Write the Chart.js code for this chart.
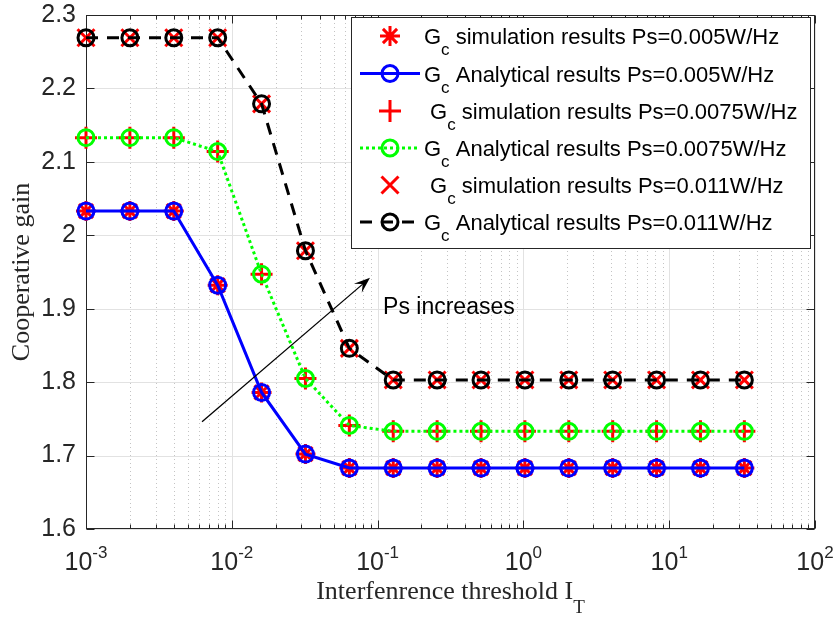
<!DOCTYPE html>
<html>
<head>
<meta charset="utf-8">
<script src="https://cdn.jsdelivr.net/npm/chart.js@4.4.1/dist/chart.umd.min.js"></script>
<style>
    html, body { margin: 0; padding: 0; background: #fff; }
    #wrap { width: 838px; height: 618px; }
</style>
</head>
<body>
<div id="wrap"><canvas id="chart" width="838" height="618"></canvas></div>
<script>
// Interference threshold I_T (x, log scale)
const thresholds = [0.001, 0.002, 0.004, 0.008, 0.016, 0.032, 0.064, 0.128, 0.256, 0.512, 1.024, 2.048, 4.096, 8.192, 16.384, 32.768];

// Cooperative gain
const gainPs005 = [2.033, 2.033, 2.033, 1.932, 1.786, 1.702, 1.683, 1.683, 1.683, 1.683, 1.683, 1.683, 1.683, 1.683, 1.683, 1.683];
const gainPs0075 = [2.133, 2.133, 2.133, 2.114, 1.947, 1.805, 1.741, 1.733, 1.733, 1.733, 1.733, 1.733, 1.733, 1.733, 1.733, 1.733];
const gainPs011 = [2.269, 2.269, 2.269, 2.269, 2.179, 1.979, 1.846, 1.803, 1.803, 1.803, 1.803, 1.803, 1.803, 1.803, 1.803, 1.803];

const xTickValues = [0.001, 0.01, 0.1, 1, 10, 100];
const xTickExponents = ['-3', '-2', '-1', '0', '1', '2'];
const yTickValues = [1.6, 1.7, 1.8, 1.9, 2.0, 2.1, 2.2, 2.3];

const legendLabels = [
    'G_c simulation results Ps=0.005W/Hz',
    'G_c Analytical results Ps=0.005W/Hz',
    ' G_c simulation results Ps=0.0075W/Hz',
    'G_c Analytical results Ps=0.0075W/Hz',
    ' G_c simulation results Ps=0.011W/Hz',
    'G_c Analytical results Ps=0.011W/Hz'
];

const xTitle = 'Interfenrence threshold I';
const xTitleSub = 'T';
const yTitle = 'Cooperative gain';
const arrowFrom = { x: 0.00625, y: 1.746 };
const arrowTo = { x: 0.0887, y: 1.942 };
const noteText = 'Ps increases';
const notePos = { x: 0.109, y: 1.893 };

const SANS = '"Liberation Sans", Arial, Helvetica, sans-serif';
const SERIF = '"Liberation Serif", "Times New Roman", serif';
const AXIS_COLOR = '#262626';

function toPoints(values) {
    return thresholds.map((x, i) => ({ x: x, y: values[i] }));
}

function simSet(label, values, style, radius, order) {
    return {
        label: label,
        data: toPoints(values),
        showLine: false,
        pointStyle: style,
        pointRadius: radius,
        pointBorderWidth: 3,
        pointBorderColor: '#ff0000',
        pointBackgroundColor: '#ff0000',
        borderColor: '#ff0000',
        clip: false,
        order: order
    };
}

function lineSet(label, values, color, dash, order) {
    return {
        label: label,
        data: toPoints(values),
        showLine: true,
        borderColor: color,
        borderWidth: 3,
        borderDash: dash,
        tension: 0,
        pointStyle: 'circle',
        pointRadius: 8,
        pointBorderWidth: 3,
        pointBorderColor: color,
        pointBackgroundColor: 'rgba(0,0,0,0)',
        clip: false,
        order: order
    };
}

// Grid, box and inward ticks (MATLAB-like), under the data
function drawFrame(chart) {
    const { ctx, chartArea: a, scales: { x, y } } = chart;
    ctx.save();

    // minor x grid, dotted
    ctx.strokeStyle = '#c4c4c4';
    ctx.lineWidth = 1;
    ctx.setLineDash([1, 3]);
    for (let d = 0; d < xTickValues.length - 1; d++) {
        for (let k = 2; k <= 9; k++) {
            const px = Math.round(x.getPixelForValue(xTickValues[d] * k)) + 0.5;
            ctx.beginPath();
            ctx.moveTo(px, a.top);
            ctx.lineTo(px, a.bottom);
            ctx.stroke();
        }
    }

    // major grid
    ctx.setLineDash([]);
    ctx.strokeStyle = '#e2e2e2';
    xTickValues.forEach(v => {
        const px = Math.round(x.getPixelForValue(v)) + 0.5;
        ctx.beginPath();
        ctx.moveTo(px, a.top);
        ctx.lineTo(px, a.bottom);
        ctx.stroke();
    });
    yTickValues.forEach(v => {
        const py = Math.round(y.getPixelForValue(v)) + 0.5;
        ctx.beginPath();
        ctx.moveTo(a.left, py);
        ctx.lineTo(a.right, py);
        ctx.stroke();
    });

    // box
    ctx.strokeStyle = AXIS_COLOR;
    ctx.lineWidth = 1;
    const L = Math.round(a.left) + 0.5, R = Math.round(a.right) - 0.5;
    const T = Math.round(a.top) + 0.5, B = Math.round(a.bottom) - 0.5;
    ctx.strokeRect(L, T, R - L, B - T);

    // ticks
    ctx.beginPath();
    xTickValues.forEach(v => {
        const px = Math.round(x.getPixelForValue(v)) + 0.5;
        ctx.moveTo(px, B); ctx.lineTo(px, B - 8);
        ctx.moveTo(px, T); ctx.lineTo(px, T + 8);
    });
    for (let d = 0; d < xTickValues.length - 1; d++) {
        for (let k = 2; k <= 9; k++) {
            const px = Math.round(x.getPixelForValue(xTickValues[d] * k)) + 0.5;
            ctx.moveTo(px, B); ctx.lineTo(px, B - 4);
            ctx.moveTo(px, T); ctx.lineTo(px, T + 4);
        }
    }
    yTickValues.forEach(v => {
        const py = Math.round(y.getPixelForValue(v)) + 0.5;
        ctx.moveTo(L, py); ctx.lineTo(L + 8, py);
        ctx.moveTo(R, py); ctx.lineTo(R - 8, py);
    });
    ctx.stroke();
    ctx.restore();
}

function drawLabels(chart) {
    const { ctx, chartArea: a, scales: { x, y } } = chart;
    ctx.save();
    ctx.fillStyle = AXIS_COLOR;
    ctx.textBaseline = 'alphabetic';
    ctx.textAlign = 'left';

    // x tick labels: 10^n
    xTickValues.forEach((v, i) => {
        const px = x.getPixelForValue(v);
        ctx.font = '25px ' + SANS;
        const wBase = ctx.measureText('10').width;
        ctx.font = '17px ' + SANS;
        const wExp = ctx.measureText(xTickExponents[i]).width;
        const start = px - (wBase + wExp) / 2;
        ctx.font = '25px ' + SANS;
        ctx.fillText('10', start, 570);
        ctx.font = '17px ' + SANS;
        ctx.fillText(xTickExponents[i], start + wBase, 558);
    });

    // x title with subscript
    ctx.font = '26px ' + SERIF;
    const wMain = ctx.measureText(xTitle).width;
    ctx.font = '19px ' + SERIF;
    const wSub = ctx.measureText(xTitleSub).width;
    const cx = (a.left + a.right) / 2;
    const sx = cx - (wMain + wSub) / 2;
    ctx.font = '26px ' + SERIF;
    ctx.fillText(xTitle, sx, 599);
    ctx.font = '19px ' + SERIF;
    ctx.fillText(xTitleSub, sx + wMain, 613);

    // y title
    ctx.save();
    ctx.translate(22, (a.top + a.bottom) / 2);
    ctx.rotate(-Math.PI / 2);
    ctx.textAlign = 'center';
    ctx.textBaseline = 'middle';
    ctx.font = '26px ' + SERIF;
    ctx.fillText(yTitle, 0, 0);
    ctx.restore();

    // arrow annotation
    const x0 = x.getPixelForValue(arrowFrom.x), y0 = y.getPixelForValue(arrowFrom.y);
    const x1 = x.getPixelForValue(arrowTo.x), y1 = y.getPixelForValue(arrowTo.y);
    const ang = Math.atan2(y1 - y0, x1 - x0);
    const headLen = 16, headHalf = 6;
    ctx.strokeStyle = '#000';
    ctx.fillStyle = '#000';
    ctx.lineWidth = 1.3;
    ctx.beginPath();
    ctx.moveTo(x0, y0);
    ctx.lineTo(x1 - Math.cos(ang) * headLen * 0.6, y1 - Math.sin(ang) * headLen * 0.6);
    ctx.stroke();
    ctx.save();
    ctx.translate(x1, y1);
    ctx.rotate(ang);
    ctx.beginPath();
    ctx.moveTo(0, 0);
    ctx.lineTo(-headLen, -headHalf);
    ctx.lineTo(-headLen * 0.6, 0);
    ctx.lineTo(-headLen, headHalf);
    ctx.closePath();
    ctx.fill();
    ctx.restore();

    ctx.font = '23px ' + SANS;
    ctx.fillStyle = '#000';
    ctx.fillText(noteText, x.getPixelForValue(notePos.x), y.getPixelForValue(notePos.y));

    ctx.restore();
}

function drawMarker(ctx, ds, cx, cy) {
    ctx.save();
    ctx.setLineDash([]);
    ctx.lineWidth = ds.pointBorderWidth;
    ctx.strokeStyle = ds.pointBorderColor;
    ctx.fillStyle = ds.pointBackgroundColor;
    Chart.helpers.drawPoint(ctx, {
        pointStyle: ds.pointStyle,
        radius: ds.pointRadius,
        borderWidth: ds.pointBorderWidth,
        rotation: 0
    }, cx, cy);
    ctx.restore();
}

function drawLegend(chart) {
    const ctx = chart.ctx;
    const box = { left: 351.5, top: 17.5, width: 459, height: 231 };
    const rowY = [36, 73.5, 111, 148, 185, 222];
    ctx.save();
    ctx.fillStyle = '#fff';
    ctx.fillRect(box.left, box.top, box.width, box.height);
    ctx.strokeStyle = AXIS_COLOR;
    ctx.lineWidth = 1;
    ctx.strokeRect(box.left, box.top, box.width, box.height);

    chart.data.datasets.forEach((ds, i) => {
        const cy = rowY[i];
        if (ds.showLine) {
            ctx.save();
            ctx.strokeStyle = ds.borderColor;
            ctx.lineWidth = ds.borderWidth;
            ctx.setLineDash(ds.borderDash || []);
            ctx.beginPath();
            ctx.moveTo(360, cy);
            ctx.lineTo(420, cy);
            ctx.stroke();
            ctx.restore();
        }
        drawMarker(ctx, ds, 390, cy);

        const parts = ds.label.split('_c');
        const base = cy + 8;
        ctx.fillStyle = '#000';
        ctx.textBaseline = 'alphabetic';
        ctx.textAlign = 'left';
        let tx = 424;
        ctx.font = '22px ' + SANS;
        ctx.fillText(parts[0], tx, base);
        tx += ctx.measureText(parts[0]).width;
        ctx.font = '17px ' + SANS;
        ctx.fillText('c', tx, base + 11);
        tx += ctx.measureText('c').width;
        ctx.font = '22px ' + SANS;
        ctx.fillText(parts[1], tx, base);
    });
    ctx.restore();
}

const framePlugin = {
    id: 'matlabFrame',
    beforeDatasetsDraw(chart) { drawFrame(chart); },
    afterDatasetsDraw(chart) {
        drawLabels(chart);
        drawLegend(chart);
    }
};

function init() {
    const ctx = document.getElementById('chart').getContext('2d');
    new Chart(ctx, {
        type: 'scatter',
        data: {
            datasets: [
                simSet(legendLabels[0], gainPs005, 'star', 10, 6),
                lineSet(legendLabels[1], gainPs005, '#0000ff', [], 5),
                simSet(legendLabels[2], gainPs0075, 'cross', 11, 4),
                lineSet(legendLabels[3], gainPs0075, '#00ff00', [3, 3], 3),
                simSet(legendLabels[4], gainPs011, 'crossRot', 12, 2),
                lineSet(legendLabels[5], gainPs011, '#000000', [12, 9], 1)
            ]
        },
        options: {
            responsive: false,
            animation: false,
            devicePixelRatio: 1,
            events: [],
            layout: { padding: { left: 0, top: 13, right: 23, bottom: 0 } },
            plugins: {
                legend: { display: false },
                tooltip: { enabled: false }
            },
            scales: {
                x: {
                    type: 'logarithmic',
                    min: 0.001,
                    max: 100,
                    grid: { display: false, drawTicks: false },
                    border: { display: false },
                    ticks: { display: false },
                    afterFit(scale) {
                        scale.height = 89;
                        scale.paddingLeft = 0;
                        scale.paddingRight = 0;
                    }
                },
                y: {
                    type: 'linear',
                    min: 1.6,
                    max: 2.3,
                    grid: { display: false, drawTicks: false },
                    border: { display: false },
                    afterBuildTicks(scale) {
                        scale.ticks = yTickValues.map(v => ({ value: v }));
                    },
                    ticks: {
                        padding: 10,
                        color: AXIS_COLOR,
                        font: { family: SANS, size: 25 },
                        callback: v => String(Math.round(v * 10) / 10)
                    },
                    afterFit(scale) {
                        scale.width = 86;
                        scale.paddingTop = 0;
                        scale.paddingBottom = 0;
                    }
                }
            }
        },
        plugins: [framePlugin]
    });
}

if (document.readyState === 'loading') {
    document.addEventListener('DOMContentLoaded', init);
} else {
    init();
}
</script>
</body>
</html>
